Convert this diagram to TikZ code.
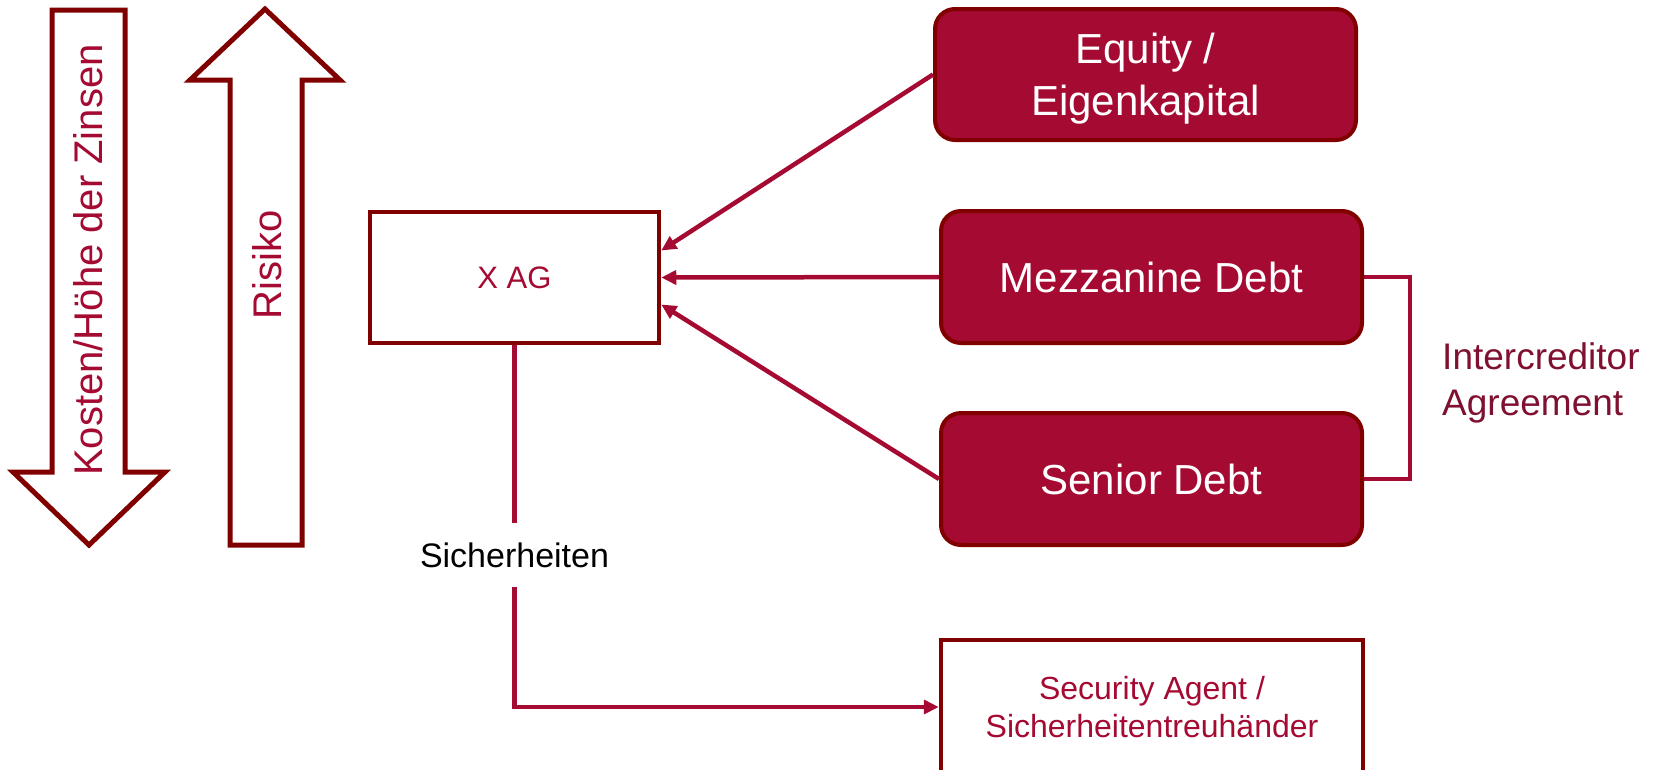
\documentclass[tikz,border=0pt]{standalone}
\usepackage{fontspec}
\setmainfont{Liberation Sans}
\usetikzlibrary{arrows.meta,calc}
\definecolor{crim}{RGB}{165,10,50}
\definecolor{dred}{RGB}{128,0,0}
\definecolor{icol}{RGB}{128,16,48}
\begin{document}
\begin{tikzpicture}[x=1pt,y=-1pt,
  debtbox/.style={draw=dred, line width=4pt, fill=crim, rounded corners=20pt, text=white,
    minimum width=421pt, minimum height=132pt, align=center, inner sep=0pt,
    font=\fontsize{42}{52}\selectfont},
  plainbox/.style={draw=dred, line width=4.5pt, fill=white, text=crim, inner sep=0pt, align=center},
  conn/.style={draw=crim, line width=4.5pt},
  arr/.style={conn, -{Triangle[length=15pt,width=14pt]}},
  bigarrow/.style={draw=dred, line width=5pt, fill=white, line join=miter},
  vlabel/.style={rotate=90, text=crim, inner sep=0pt, font=\fontsize{40}{48}\selectfont}
]
\useasboundingbox (0,0) rectangle (1654,769);

% big arrows on the left
\draw[bigarrow] (52,10) -- (125,10) -- (125,472) -- (165,472) -- (89,545) -- (13,472) -- (52,472) -- cycle;
\draw[bigarrow] (265,9) -- (340,80) -- (302,80) -- (302,545) -- (230,545) -- (230,80) -- (190,80) -- cycle;
\node[vlabel] (kosten) at (88,260) {Kosten/Höhe der Zinsen};
\node[vlabel] (risiko) at (267,265) {Risiko};

% boxes
\node[debtbox, minimum height=131pt, text depth=0pt] (equity) at (1145.5,74.5) {Equity /\\Eigenkapital};
\node[debtbox] (mezz) at (1151.5,277) {Mezzanine Debt};
\node[debtbox] (senior) at (1151.5,479) {Senior Debt};
\node[plainbox, minimum width=289pt, minimum height=131pt, font=\fontsize{31}{37}\selectfont] (xag) at (514.5,277.5) {X AG};
\node[plainbox, minimum width=422pt, minimum height=134pt, font=\fontsize{32}{38}\selectfont] (sec) at (1152,707) {Security Agent /\\Sicherheitentreuhänder};

% labels
\node[inner sep=0pt, minimum height=64pt, font=\fontsize{34}{40}\selectfont] (sich) at (514.5,555) {Sicherheiten};
\node[anchor=west, inner sep=0pt, align=left, text=icol, font=\fontsize{37}{46}\selectfont] (icr) at (1442,383) {Intercreditor\\Agreement};

% connectors
\draw[arr] (equity.west) -- ([yshift=27pt]xag.east);
\draw[arr] (mezz.west) -- (xag.east);
\draw[arr] (senior.west) -- ([yshift=-27pt]xag.east);
\draw[conn] (mezz.east) -- ++(46,0) |- (senior.east);
\draw[conn] (xag.south) -- (sich.north);
\draw[arr] (sich.south) |- (sec.west);
\end{tikzpicture}
\end{document}
